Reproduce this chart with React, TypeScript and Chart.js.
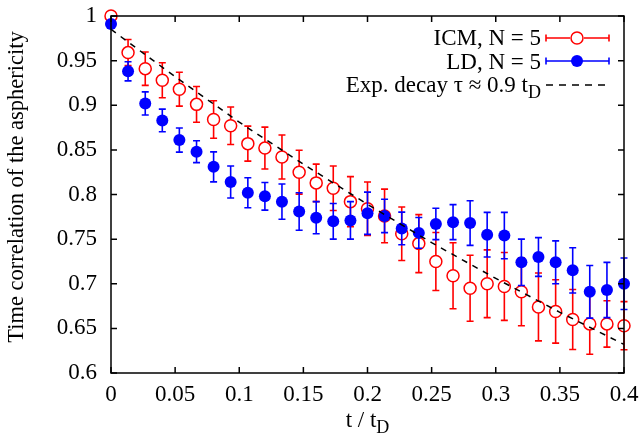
import { useEffect, useRef } from "react";
import { Chart, registerables } from "chart.js";
Chart.register(...registerables);

const FONT = "'Liberation Serif', 'Times New Roman', Times, serif";

// time t / t_D
const tValues = [
  0, 0.0133, 0.0267, 0.04, 0.0533, 0.0667, 0.08, 0.0933, 0.1067, 0.12, 0.1333,
  0.1467, 0.16, 0.1733, 0.1867, 0.2, 0.2133, 0.2267, 0.24, 0.2533, 0.2667,
  0.28, 0.2933, 0.3067, 0.32, 0.3333, 0.3467, 0.36, 0.3733, 0.3867, 0.4,
];

// ICM, N = 5
const icmValues = [
  1.0, 0.959, 0.941, 0.928, 0.918, 0.901, 0.884, 0.877, 0.857, 0.852, 0.842,
  0.825, 0.813, 0.807, 0.792, 0.784, 0.776, 0.756, 0.745, 0.725, 0.709,
  0.695, 0.7, 0.697, 0.691, 0.674, 0.669, 0.66, 0.655, 0.655, 0.653,
];
const icmErrors = [
  0, 0.0146, 0.0187, 0.0196, 0.019, 0.02, 0.021, 0.021, 0.0196, 0.0235, 0.0246,
  0.0246, 0.021, 0.025, 0.028, 0.03, 0.03, 0.03, 0.0325, 0.0325, 0.037,
  0.037, 0.038, 0.038, 0.038, 0.038, 0.0355, 0.0336, 0.034, 0.026, 0.027,
];

// LD, N = 5
const ldValues = [
  0.991, 0.938, 0.902, 0.883, 0.861, 0.848, 0.831, 0.814, 0.802, 0.798, 0.792,
  0.781, 0.774, 0.77, 0.771, 0.779, 0.776, 0.762, 0.757, 0.767, 0.769,
  0.768, 0.755, 0.754, 0.724, 0.73, 0.724, 0.715, 0.691, 0.693, 0.7,
];
const ldErrors = [
  0, 0.0107, 0.013, 0.0127, 0.0135, 0.0123, 0.0168, 0.018, 0.0168, 0.0155, 0.0198,
  0.021, 0.018, 0.02, 0.021, 0.0237, 0.0187, 0.0183, 0.0172, 0.0176, 0.0196,
  0.025, 0.025, 0.026, 0.026, 0.0217, 0.024, 0.0254, 0.0295, 0.031, 0.0288,
];

// exponential decay, tau ~ 0.9 t_D
const fitT = [0, 0.05, 0.1, 0.15, 0.2, 0.25, 0.3, 0.35, 0.4];
const fitValues = [0.985, 0.932, 0.881, 0.834, 0.789, 0.746, 0.706, 0.668, 0.632];

const xTicks = [0, 0.05, 0.1, 0.15, 0.2, 0.25, 0.3, 0.35, 0.4];
const yTicks = [0.6, 0.65, 0.7, 0.75, 0.8, 0.85, 0.9, 0.95, 1];

const RED = "#ff0000";
const BLUE = "#0000ff";

const fmt = (v: number) => String(Number(v.toFixed(2)));

const zeroPad = (scale: any) => {
  scale.paddingTop = 0;
  scale.paddingBottom = 0;
  scale.paddingLeft = 0;
  scale.paddingRight = 0;
};

export default function App() {
  const ref = useRef<HTMLCanvasElement>(null);

  useEffect(() => {
    const canvas = ref.current!;

    const errorBarPlugin = {
      id: "errorBars",
      beforeDatasetDraw(chart: any, args: any) {
        const ds: any = chart.data.datasets[args.index];
        if (!ds.errors) return;
        const ctx = chart.ctx;
        const ys = chart.scales.y;
        const meta = chart.getDatasetMeta(args.index);
        ctx.save();
        ctx.strokeStyle = ds.barColor;
        ctx.lineWidth = 1.6;
        const gap = ds.barGap || 0;
        meta.data.forEach((pt: any, i: number) => {
          const e = ds.errors[i];
          if (!e) return;
          const v = ds.data[i].y;
          const y1 = ys.getPixelForValue(v + e);
          const y2 = ys.getPixelForValue(v - e);
          const yc = ys.getPixelForValue(v);
          const x = pt.x;
          ctx.beginPath();
          if (gap > 0) {
            if (yc - gap > y1) {
              ctx.moveTo(x, y1);
              ctx.lineTo(x, yc - gap);
            }
            if (yc + gap < y2) {
              ctx.moveTo(x, yc + gap);
              ctx.lineTo(x, y2);
            }
          } else {
            ctx.moveTo(x, y1);
            ctx.lineTo(x, y2);
          }
          ctx.moveTo(x - 3.5, y1);
          ctx.lineTo(x + 3.5, y1);
          ctx.moveTo(x - 3.5, y2);
          ctx.lineTo(x + 3.5, y2);
          ctx.stroke();
        });
        ctx.restore();
      },
    };

    const decorPlugin = {
      id: "decor",
      afterDraw(chart: any) {
        const ctx = chart.ctx;
        const { left, right, top, bottom } = chart.chartArea;
        const xs = chart.scales.x;
        const ys = chart.scales.y;
        ctx.save();
        // frame
        ctx.strokeStyle = "#000";
        ctx.lineWidth = 1.5;
        ctx.strokeRect(left, top, right - left, bottom - top);
        // inward ticks on all sides
        ctx.beginPath();
        xTicks.forEach((v) => {
          const px = xs.getPixelForValue(v);
          ctx.moveTo(px, bottom);
          ctx.lineTo(px, bottom - 6);
          ctx.moveTo(px, top);
          ctx.lineTo(px, top + 6);
        });
        yTicks.forEach((v) => {
          const py = ys.getPixelForValue(v);
          ctx.moveTo(left, py);
          ctx.lineTo(left + 6, py);
          ctx.moveTo(right, py);
          ctx.lineTo(right - 6, py);
        });
        ctx.stroke();

        ctx.fillStyle = "#000";
        // y title
        ctx.save();
        ctx.translate(17, 187);
        ctx.rotate(-Math.PI / 2);
        ctx.font = `22.5px ${FONT}`;
        ctx.textAlign = "center";
        ctx.textBaseline = "middle";
        ctx.fillText("Time correlation of the asphericity", 0, 0);
        ctx.restore();

        // text with subscript helper
        const drawSub = (
          main: string,
          sub: string,
          x: number,
          baseline: number,
          align: "center" | "right"
        ) => {
          ctx.font = `23px ${FONT}`;
          const w1 = ctx.measureText(main).width;
          ctx.font = `18px ${FONT}`;
          const w2 = ctx.measureText(sub).width;
          const total = w1 + w2;
          const x0 = align === "center" ? x - total / 2 : x - total;
          ctx.textAlign = "left";
          ctx.textBaseline = "alphabetic";
          ctx.font = `23px ${FONT}`;
          ctx.fillText(main, x0, baseline);
          ctx.font = `18px ${FONT}`;
          ctx.fillText(sub, x0 + w1, baseline + 6);
        };

        // x title
        drawSub("t / t", "D", (left + right) / 2, 427, "center");

        // legend
        const tx = 541;
        const sx1 = 546;
        const sx2 = 609;
        const sxm = 577;
        ctx.font = `23px ${FONT}`;
        ctx.textAlign = "right";
        ctx.textBaseline = "alphabetic";
        ctx.fillText("ICM, N = 5", tx, 45);
        ctx.fillText("LD, N = 5", tx, 68.5);
        drawSub("Exp. decay \u03c4 \u2248 0.9 t", "D", tx, 92, "right");

        // ICM sample
        let yy = 38;
        ctx.strokeStyle = RED;
        ctx.lineWidth = 1.6;
        ctx.beginPath();
        ctx.moveTo(sx1, yy);
        ctx.lineTo(sxm - 7, yy);
        ctx.moveTo(sxm + 7, yy);
        ctx.lineTo(sx2, yy);
        ctx.moveTo(sx1, yy - 3.5);
        ctx.lineTo(sx1, yy + 3.5);
        ctx.moveTo(sx2, yy - 3.5);
        ctx.lineTo(sx2, yy + 3.5);
        ctx.stroke();
        ctx.beginPath();
        ctx.lineWidth = 1.5;
        ctx.arc(sxm, yy, 6, 0, Math.PI * 2);
        ctx.stroke();

        // LD sample
        yy = 61;
        ctx.strokeStyle = BLUE;
        ctx.fillStyle = BLUE;
        ctx.lineWidth = 1.6;
        ctx.beginPath();
        ctx.moveTo(sx1, yy);
        ctx.lineTo(sx2, yy);
        ctx.moveTo(sx1, yy - 3.5);
        ctx.lineTo(sx1, yy + 3.5);
        ctx.moveTo(sx2, yy - 3.5);
        ctx.lineTo(sx2, yy + 3.5);
        ctx.stroke();
        ctx.beginPath();
        ctx.arc(sxm, yy, 6, 0, Math.PI * 2);
        ctx.fill();

        // fit sample
        yy = 85;
        ctx.strokeStyle = "#000";
        ctx.lineWidth = 1.5;
        ctx.setLineDash([7, 6]);
        ctx.beginPath();
        ctx.moveTo(sx1, yy);
        ctx.lineTo(sx2, yy);
        ctx.stroke();
        ctx.setLineDash([]);

        ctx.restore();
      },
    };

    const chart = new Chart(canvas, {
      type: "scatter",
      data: {
        datasets: [
          {
            type: "line",
            label: "Exp. decay",
            data: fitT.map((t, i) => ({ x: t, y: fitValues[i] })),
            borderColor: "#000",
            borderWidth: 1.5,
            borderDash: [6, 6],
            pointRadius: 0,
            showLine: true,
            fill: false,
            tension: 0,
          } as any,
          {
            label: "LD, N = 5",
            data: tValues.map((t, i) => ({ x: t, y: ldValues[i] })),
            errors: ldErrors,
            barColor: BLUE,
            barGap: 0,
            backgroundColor: BLUE,
            borderColor: BLUE,
            borderWidth: 0,
            pointRadius: 6,
            pointStyle: "circle",
            clip: false,
          } as any,
          {
            label: "ICM, N = 5",
            data: tValues.map((t, i) => ({ x: t, y: icmValues[i] })),
            errors: icmErrors,
            barColor: RED,
            barGap: 6,
            backgroundColor: "rgba(0,0,0,0)",
            borderColor: RED,
            borderWidth: 1.5,
            pointRadius: 6,
            pointStyle: "circle",
            clip: false,
          } as any,
        ],
      },
      options: {
        animation: false,
        responsive: true,
        maintainAspectRatio: false,
        layout: { padding: { top: 16, right: 18, left: 0, bottom: 0 } },
        plugins: {
          legend: { display: false },
          tooltip: { enabled: false },
        },
        scales: {
          x: {
            type: "linear",
            min: 0,
            max: 0.4,
            grid: { display: false, drawTicks: false },
            border: { display: false },
            afterBuildTicks: (scale: any) => {
              scale.ticks = xTicks.map((v) => ({ value: v }));
            },
            afterFit: (scale: any) => {
              scale.height = 72;
              zeroPad(scale);
            },
            ticks: {
              autoSkip: false,
              maxRotation: 0,
              padding: 8,
              color: "#000",
              font: { family: FONT, size: 23 },
              callback: (v: any) => fmt(Number(v)),
            },
          },
          y: {
            type: "linear",
            min: 0.6,
            max: 1,
            grid: { display: false, drawTicks: false },
            border: { display: false },
            afterBuildTicks: (scale: any) => {
              scale.ticks = yTicks.map((v) => ({ value: v }));
            },
            afterFit: (scale: any) => {
              scale.width = 111;
              zeroPad(scale);
            },
            ticks: {
              autoSkip: false,
              padding: 14,
              color: "#000",
              font: { family: FONT, size: 23 },
              callback: (v: any) => fmt(Number(v)),
            },
          },
        },
      },
      plugins: [errorBarPlugin, decorPlugin],
    });

    return () => chart.destroy();
  }, []);

  return (
    <div
      style={{
        position: "fixed",
        left: 0,
        top: 0,
        width: 642,
        height: 445,
        background: "#fff",
      }}
    >
      <canvas ref={ref} />
    </div>
  );
}
